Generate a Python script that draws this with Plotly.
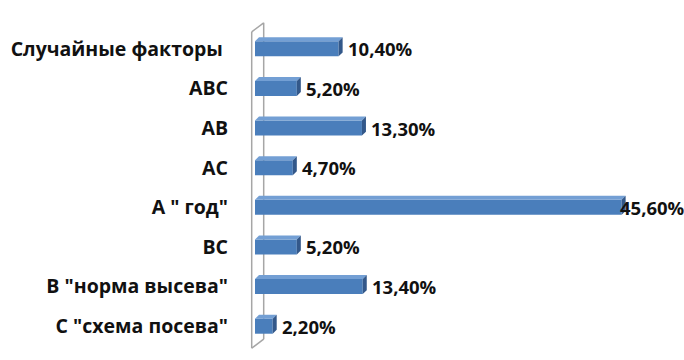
import plotly.graph_objects as go

categories = ["Случайные факторы\u00a0", "АВС", "АВ", "АС", "А \" год\"", "ВС",
              "В \"норма высева\"", "С \"схема посева\""]
values = [10.4, 5.2, 13.3, 4.7, 45.6, 5.2, 13.4, 2.2]
labels = ["10,40%", "5,20%", "13,30%", "4,70%", "45,60%", "5,20%", "13,40%", "2,20%"]

FRONT = "#4A7EBB"
TOP = "#739FD4"
SIDE = "#33588A"
FONT = "Open Sans"
TXT = "#111111"

# target plot box in page pixels (body margin removed via post_script)
PL, PR, PT, PB = 255.3, 657.5, 29.2, 345.8
W, H = 684, 360

fig = go.Figure()
fig.add_trace(go.Bar(
    x=values, y=categories, orientation="h",
    marker=dict(color=FRONT, line=dict(width=0)),
    width=0.38, hoverinfo="skip",
))

annotations = []
vmax = max(values)
for c, v, t in zip(categories, values, labels):
    annotations.append(dict(x=v, y=c, xref="x", yref="y", text=t, showarrow=False,
                            xanchor="left", yanchor="middle",
                            xshift=(-4 if v == vmax else 7),
                            font=dict(family=FONT, size=18.5, color=TXT, weight="bold")))

dx, dy, hw = 0.5, 0.1, 0.19
shapes = []
for i, v in enumerate(values):
    top = i - hw
    bot = i + hw
    shapes.append(dict(type="path", xref="x", yref="y", layer="above",
                       path=f"M 0 {top} L {dx} {top-dy} L {v+dx} {top-dy} L {v} {top} Z",
                       fillcolor=TOP, line=dict(width=0)))
    shapes.append(dict(type="path", xref="x", yref="y", layer="above",
                       path=f"M {v} {top} L {v+dx} {top-dy} L {v+dx} {bot-dy} L {v} {bot} Z",
                       fillcolor=SIDE, line=dict(width=0)))

# 3D axis wall (page pixel coords -> paper)
wall = dict(color="#A6A6A6", width=1.5)
def px(x):
    return (x - PL) / (PR - PL)
def py(y):
    return (PB - y) / (PB - PT)
for x0, y0, x1, y1 in [(252, 32, 252, 348), (252, 32, 264, 23), (264, 23, 264, 339), (252, 348, 264, 339)]:
    shapes.append(dict(type="line", xref="paper", yref="paper",
                       x0=px(x0), x1=px(x1), y0=py(y0), y1=py(y1),
                       line=wall, layer="below"))

fig.update_layout(
    width=W, height=H,
    margin=dict(l=PL, r=W - PR, t=PT, b=H - PB, autoexpand=False),
    paper_bgcolor="white", plot_bgcolor="white",
    showlegend=False, hovermode=False,
    shapes=shapes, annotations=annotations,
    xaxis=dict(range=[0, 50], visible=False, fixedrange=True),
    yaxis=dict(range=[7.5, -0.5], showgrid=False, zeroline=False, showline=False,
               ticks="", ticklabelstandoff=26, automargin=False, fixedrange=True,
               tickfont=dict(family=FONT, size=19.5, color=TXT, weight="bold")),
)

fig.write_html("out.html", config={"displayModeBar": False, "staticPlot": True},
               post_script="document.body.style.margin='0';document.body.style.overflow='hidden';")
